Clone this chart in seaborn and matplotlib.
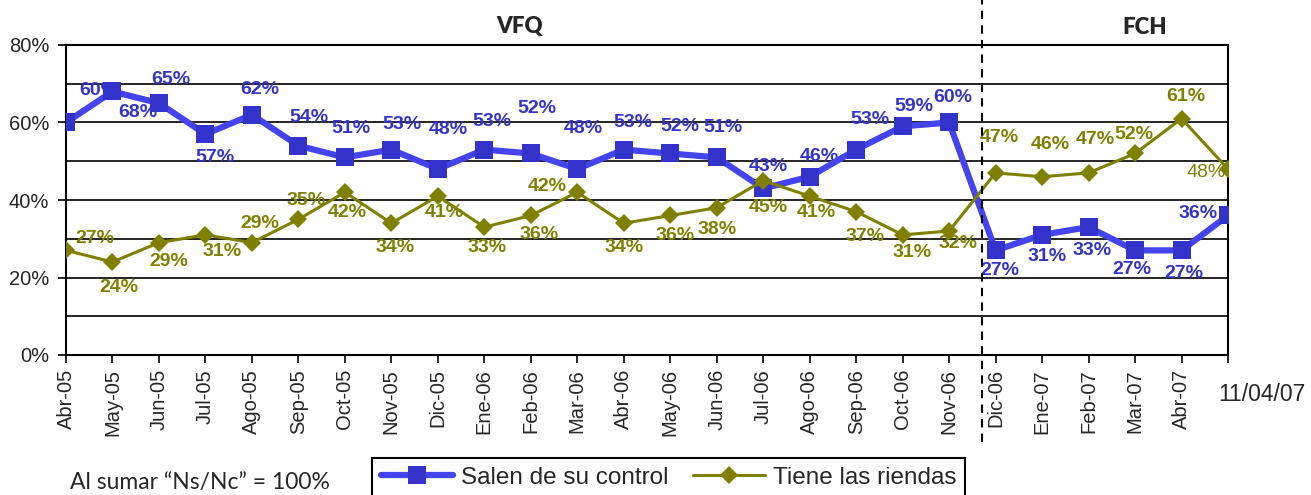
import numpy as np
import pandas as pd
import matplotlib.pyplot as plt
import seaborn as sns
from matplotlib.transforms import ScaledTranslation

meses = ["Abr-05", "May-05", "Jun-05", "Jul-05", "Ago-05", "Sep-05", "Oct-05",
         "Nov-05", "Dic-05", "Ene-06", "Feb-06", "Mar-06", "Abr-06", "May-06",
         "Jun-06", "Jul-06", "Ago-06", "Sep-06", "Oct-06", "Nov-06", "Dic-06",
         "Ene-07", "Feb-07", "Mar-07", "Abr-07", "11/04/07"]
salen = [60, 68, 65, 57, 62, 54, 51, 53, 48, 53, 52, 48, 53, 52, 51, 43, 46,
         53, 59, 60, 27, 31, 33, 27, 27, 36]
riendas = [27, 24, 29, 31, 29, 35, 42, 34, 41, 33, 36, 42, 34, 36, 38, 45, 41,
           37, 31, 32, 47, 46, 47, 52, 61, 48]

# label offsets in pixels (dx, dy)
salen_off = [(33, 32), (25, -21), (12, 24), (9, -23), (8, 25), (11, 28), (6, 29),
             (11, 25), (10, 39), (8, 28), (6, 45), (6, 40), (9, 27), (10, 27),
             (6, 30), (5, 22), (10, 20), (14, 30), (11, 20), (4, 25), (4, -20),
             (5, -22), (4, -23), (-3, -19), (2, -23), (-30, 2)]
riendas_off = [(29, 12), (6, -26), (10, -19), (17, -17), (8, 19), (8, 19), (2, -20),
               (4, -24), (6, -16), (3, -20), (8, -19), (-30, 6), (0, -24), (5, -20),
               (0, -22), (5, -27), (7, -16), (9, -25), (9, -18), (9, -12), (4, 35),
               (8, 32), (7, 33), (-1, 19), (4, 22), (-22, -4)]

AZUL = "#3333cc"
OLIVA = "#808000"

df = pd.DataFrame({"pos": np.arange(len(meses)), "salen": salen, "riendas": riendas})

sns.set_style("white")
plt.rcParams["font.family"] = ["Liberation Sans", "DejaVu Sans"]

fig = plt.figure(figsize=(13.11, 4.95), dpi=100)
ax = fig.add_axes([66 / 1311, 140 / 495, 1162 / 1311, 310 / 495])

ax.set_yticks(range(0, 81, 10), minor=True)
ax.grid(True, axis="y", which="both", color="black", linewidth=1.2, zorder=0)
ax.set_axisbelow(True)

sns.lineplot(data=df, x="pos", y="salen", ax=ax, color="#4444ee", linewidth=4.5,
             marker="s", markersize=12.5, markerfacecolor=AZUL, markeredgewidth=0,
             label="Salen de su control", zorder=4)
sns.lineplot(data=df, x="pos", y="riendas", ax=ax, color=OLIVA, linewidth=2.2,
             marker="D", markersize=9, markerfacecolor=OLIVA, markeredgewidth=0,
             label="Tiene las riendas", zorder=4)

for i, v in enumerate(salen):
    ax.annotate(f"{v}%", (i, v), xytext=salen_off[i], textcoords="offset pixels",
                ha="center", va="center", fontsize=14, fontweight="bold",
                color=AZUL, zorder=3)
for i, v in enumerate(riendas):
    w = "normal" if i == len(riendas) - 1 else "bold"
    ax.annotate(f"{v}%", (i, v), xytext=riendas_off[i], textcoords="offset pixels",
                ha="center", va="center", fontsize=14, fontweight=w,
                color=OLIVA, zorder=3)

ax.set_xlim(0, len(meses) - 1)
ax.set_ylim(0, 80)
ax.set_yticks(range(0, 81, 20))
ax.set_yticklabels([f"{t}%" for t in range(0, 81, 20)], fontsize=14.5)
ax.set_xticks(range(len(meses)))
ax.set_xticklabels(meses, rotation=90, fontsize=14.5)
ax.tick_params(axis="both", which="major", length=6, width=1.2, color="black",
               direction="out", left=True, bottom=True)
ax.tick_params(axis="y", which="major", pad=6)
ax.tick_params(axis="x", which="major", pad=4)
ax.tick_params(axis="y", which="minor", length=0)
ultimo = ax.get_xticklabels()[-1]
ultimo.set_rotation(0)
ultimo.set_fontsize(16.5)
ultimo.set_transform(ultimo.get_transform()
                     + ScaledTranslation(0.34, -0.14, fig.dpi_scale_trans))
ax.set_xlabel("")
ax.set_ylabel("")
for s in ax.spines.values():
    s.set_color("black")
    s.set_linewidth(1.5)
    s.set_visible(True)

ax.axvline(19.7, ymin=-0.28, ymax=1.15, color="black", linestyle=(0, (4, 3)),
           linewidth=1.5, clip_on=False, zorder=5)

fig.text(520 / 1311, 1 - 27 / 495, "VFQ", ha="center", va="center",
         fontsize=16, fontweight="heavy", family=["Lato", "DejaVu Sans"])
fig.text(1145 / 1311, 1 - 27 / 495, "FCH", ha="center", va="center",
         fontsize=16, fontweight="heavy", family=["Lato", "DejaVu Sans"])
fig.text(200 / 1311, 1 - 483 / 495, "Al sumar \u201cNs/Nc\u201d = 100%", ha="center",
         va="center", fontsize=16.5, family=["Lato", "DejaVu Sans"])

ax.legend(loc="upper left", bbox_to_anchor=(372 / 1311, 1 - 458 / 495),
          bbox_transform=fig.transFigure, ncol=2, fontsize=17.5, frameon=True,
          fancybox=False, edgecolor="black", framealpha=1, borderaxespad=0,
          handlelength=3.0, columnspacing=1.0, handletextpad=0.3,
          borderpad=0.35)
ax.get_legend().get_frame().set_linewidth(1.5)

fig.savefig("out.png", dpi=100)
